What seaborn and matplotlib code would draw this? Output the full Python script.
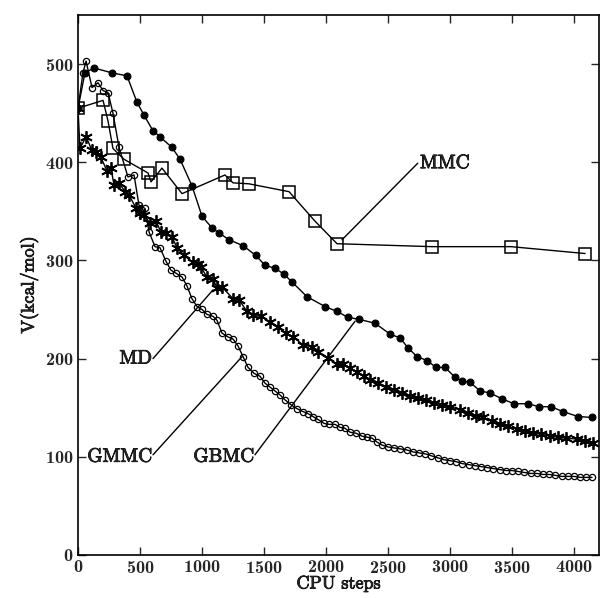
import matplotlib
matplotlib.use("Agg")
import matplotlib.pyplot as plt
import matplotlib.patheffects as pe
import seaborn as sns

# MD (filled circles)
md_x = [0, 56, 129, 274, 395, 476, 532, 605, 661, 758, 823, 919, 1000, 1081, 1137, 1218,
        1331, 1435, 1508, 1589, 1661, 1726, 1847, 1992, 2089, 2177, 2266, 2395, 2516, 2597,
        2661, 2734, 2815, 2887, 2960, 3040, 3097, 3161, 3242, 3323, 3419, 3516, 3629, 3718,
        3815, 3911, 4032, 4145]
md_y = [455, 491, 496, 491, 488, 461, 448, 432, 426, 415, 403, 376, 345, 333, 328, 321,
        315, 305, 295, 292, 286, 278, 263, 253, 248, 242, 240, 236, 225, 221,
        211, 202, 198, 191, 191, 181, 177, 176, 167, 165, 159, 154, 154, 151,
        151, 146, 141, 140]

# MMC (open squares)
mmc_x = [0, 202, 242, 282, 371, 565, 589, 677, 839, 1185, 1250, 1379, 1702, 1911, 2089, 2855, 3492, 4089]
mmc_y = [455, 463, 442, 414, 403, 389, 380, 394, 368, 387, 379, 378, 370, 340, 317, 314, 314, 307]

# GMMC (small open circles)
gmmc_x = [0, 40, 65, 113, 161, 202, 242, 282, 331, 403, 452, 492, 540, 573, 621, 661, 710, 750,
          790, 839, 879, 919, 960, 1000, 1040, 1089, 1121, 1161, 1210, 1250, 1290, 1331, 1371,
          1419, 1468, 1508, 1548, 1589, 1629, 1669, 1718, 1766, 1815, 1855, 1895, 1935, 1984,
          2024, 2073, 2113, 2153, 2194, 2242, 2290, 2331, 2371, 2411, 2450, 2500, 2550, 2600,
          2650, 2700, 2750, 2800, 2850, 2900, 2950, 3000, 3050, 3100, 3150, 3200, 3250, 3300,
          3350, 3400, 3450, 3500, 3550, 3600, 3650, 3700, 3750, 3800, 3850, 3900, 3950, 4000,
          4050, 4100, 4145]
gmmc_y = [455, 491, 503, 476, 481, 473, 471, 450, 415, 385, 387, 356, 353, 329, 314, 313, 299, 290,
          287, 283, 274, 261, 253, 250, 245, 243, 239, 226, 222, 220, 213, 202, 191,
          185, 182, 175, 171, 167, 163, 158, 153, 149, 146, 144, 141, 138, 134,
          133, 133, 130, 129, 125, 124, 121, 120, 119, 115, 112, 110, 109, 108,
          107, 105, 104, 103, 101, 99, 97, 96, 95, 93, 92, 91, 90, 89,
          88, 87, 86, 86, 85, 84, 83, 83, 82, 82, 81, 80, 80, 80,
          79, 79, 79]

# GBMC (stars)
gbmc_x = [0, 16, 65, 113, 145, 185, 234, 266, 290, 331, 379, 411, 468, 500, 532, 581, 629, 669,
          710, 758, 798, 855, 927, 968, 992, 1040, 1089, 1121, 1161, 1250, 1298, 1363, 1411,
          1476, 1548, 1613, 1677, 1734, 1815, 1887, 1935, 2016, 2089, 2137, 2194, 2250, 2306,
          2355, 2419, 2484, 2548, 2613, 2677, 2742, 2806, 2871, 2935, 3000, 3081, 3145, 3210,
          3266, 3339, 3403, 3468, 3540, 3605, 3669, 3734, 3806, 3871, 3935, 4024, 4089, 4153]
gbmc_y = [455, 414, 426, 412, 410, 405, 391, 394, 377, 379, 370, 367, 353, 348, 346, 338, 340, 329,
          328, 324, 313, 305, 298, 296, 293, 283, 281, 272, 273, 261, 260, 248, 244,
          243, 237, 232, 226, 222, 214, 212, 207, 201, 194, 194, 190, 186, 182,
          178, 175, 171, 168, 165, 162, 160, 158, 155, 153, 151, 148, 145, 142,
          140, 136, 133, 131, 128, 126, 124, 123, 121, 120, 119, 118, 116, 114]

x_ticks = [0, 500, 1000, 1500, 2000, 2500, 3000, 3500, 4000]
y_ticks = [0, 100, 200, 300, 400, 500]

sns.set_style("ticks")
plt.rcParams["font.family"] = ["cmr10", "DejaVu Serif"]
plt.rcParams["mathtext.fontset"] = "cm"
plt.rcParams["axes.formatter.use_mathtext"] = True
plt.rcParams["axes.unicode_minus"] = False

fig = plt.figure(figsize=(6.0, 5.98), dpi=100)
ax = fig.add_axes([0.13, 0.072, 0.868, 0.903])

sns.lineplot(x=md_x, y=md_y, ax=ax, color="k", lw=1, marker="o", markersize=5,
             markerfacecolor="k", markeredgecolor="k", estimator=None, sort=False)
sns.lineplot(x=mmc_x, y=mmc_y, ax=ax, color="k", lw=1, marker="s", markersize=9,
             markerfacecolor="none", markeredgecolor="k", markeredgewidth=1.1,
             estimator=None, sort=False)
sns.lineplot(x=gmmc_x, y=gmmc_y, ax=ax, color="k", lw=1, marker="o", markersize=4.5,
             markerfacecolor="none", markeredgecolor="k", markeredgewidth=0.9,
             estimator=None, sort=False)
sns.lineplot(x=gbmc_x, y=gbmc_y, ax=ax, color="k", lw=1, marker=(6, 2, 0), markersize=9,
             markeredgecolor="k", markeredgewidth=1.3, estimator=None, sort=False)

thick = [pe.withStroke(linewidth=0.6, foreground="k")]

# labels with leader lines
ax.plot([2129, 2740], [321, 399], color="k", lw=1)
ax.text(2758, 399, "MMC", ha="left", va="center", fontsize=14, path_effects=thick)
ax.plot([605, 1089], [200, 270], color="k", lw=1)
ax.text(597, 200, "MD", ha="right", va="center", fontsize=14, path_effects=thick)
ax.plot([605, 1323], [102, 202], color="k", lw=1)
ax.text(597, 100, "GMMC", ha="right", va="center", fontsize=14, path_effects=thick)
ax.plot([1427, 2234], [102, 238], color="k", lw=1)
ax.text(1420, 100, "GBMC", ha="right", va="center", fontsize=14, path_effects=thick)

ax.set_xlim(0, 4200)
ax.set_ylim(0, 550)
ax.set_xticks(x_ticks)
ax.set_yticks(y_ticks)
ax.tick_params(direction="in", top=True, right=True, length=6, width=1,
               labelsize=13, pad=3)
for lab in ax.get_xticklabels() + ax.get_yticklabels():
    lab.set_fontfamily(["cmb10", "DejaVu Serif"])
for s in ax.spines.values():
    s.set_linewidth(1.2)
    s.set_color("k")
ax.set_xlabel("CPU steps", fontsize=13, labelpad=0, path_effects=thick)
ax.set_ylabel("V(kcal/mol)", fontsize=13, labelpad=5, path_effects=thick)

fig.savefig("out.png", dpi=100)
